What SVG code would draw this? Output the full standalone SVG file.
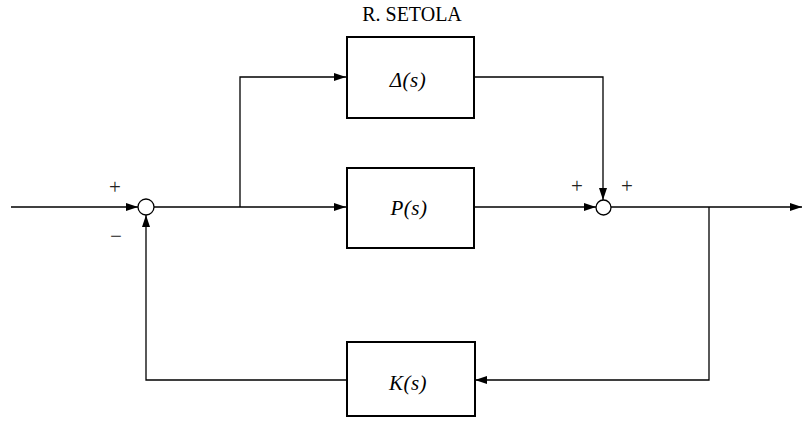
<svg xmlns="http://www.w3.org/2000/svg" width="802" height="427" viewBox="0 0 802 427">
<style>
.box{fill:#fff;stroke:#000;stroke-width:2}
.ln{fill:none;stroke:#000;stroke-width:1.3}
.sum{fill:#fff;stroke:#000;stroke-width:1.3}
.lbl{font-family:"Liberation Serif","DejaVu Serif",serif;font-style:italic;font-size:21px;text-anchor:middle;letter-spacing:0.5px}
.sg{font-family:"Liberation Serif","DejaVu Serif",serif;font-size:21px;text-anchor:middle;fill:#222}
.ttl{font-family:"Liberation Serif","DejaVu Serif",serif;font-size:20px;text-anchor:middle}
</style>
<defs>
<marker id="ar" viewBox="0 0 12 8" refX="12" refY="4" markerWidth="12" markerHeight="8" markerUnits="userSpaceOnUse" orient="auto">
<path d="M0,0 L12,4 L0,8 Z" fill="#000"/>
</marker>
</defs>
<text class="ttl" x="412" y="21">R. SETOLA</text>
<g id="connectors">
<line class="ln" x1="11" y1="207" x2="138" y2="207" marker-end="url(#ar)"/>
<line class="ln" x1="154" y1="207" x2="346" y2="207" marker-end="url(#ar)"/>
<polyline class="ln" points="240,207 240,77 346,77" marker-end="url(#ar)"/>
<polyline class="ln" points="474,77 603,77 603,200" marker-end="url(#ar)"/>
<line class="ln" x1="474" y1="207" x2="596" y2="207" marker-end="url(#ar)"/>
<line class="ln" x1="611" y1="207" x2="802" y2="207" marker-end="url(#ar)"/>
<polyline class="ln" points="709,207 709,380 475,380" marker-end="url(#ar)"/>
<polyline class="ln" points="347,380 146,380 146,215" marker-end="url(#ar)"/>
</g>
<g id="sum1"><circle class="sum" cx="146" cy="207" r="8"/></g>
<g id="sum2"><circle class="sum" cx="603.5" cy="207.5" r="7.5"/></g>
<g id="delta"><rect class="box" x="347" y="37" width="127" height="81"/><text class="lbl" x="408" y="87">Δ(s)</text></g>
<g id="plant"><rect class="box" x="347" y="168" width="127" height="80"/><text class="lbl" x="409" y="215">P(s)</text></g>
<g id="ctrl"><rect class="box" x="347" y="342" width="128" height="74"/><text class="lbl" x="408" y="390">K(s)</text></g>
<g id="signs">
<text class="sg" x="115" y="194">+</text>
<text class="sg" x="116" y="243">−</text>
<text class="sg" x="577" y="193">+</text>
<text class="sg" x="627" y="193">+</text>
</g>
</svg>
